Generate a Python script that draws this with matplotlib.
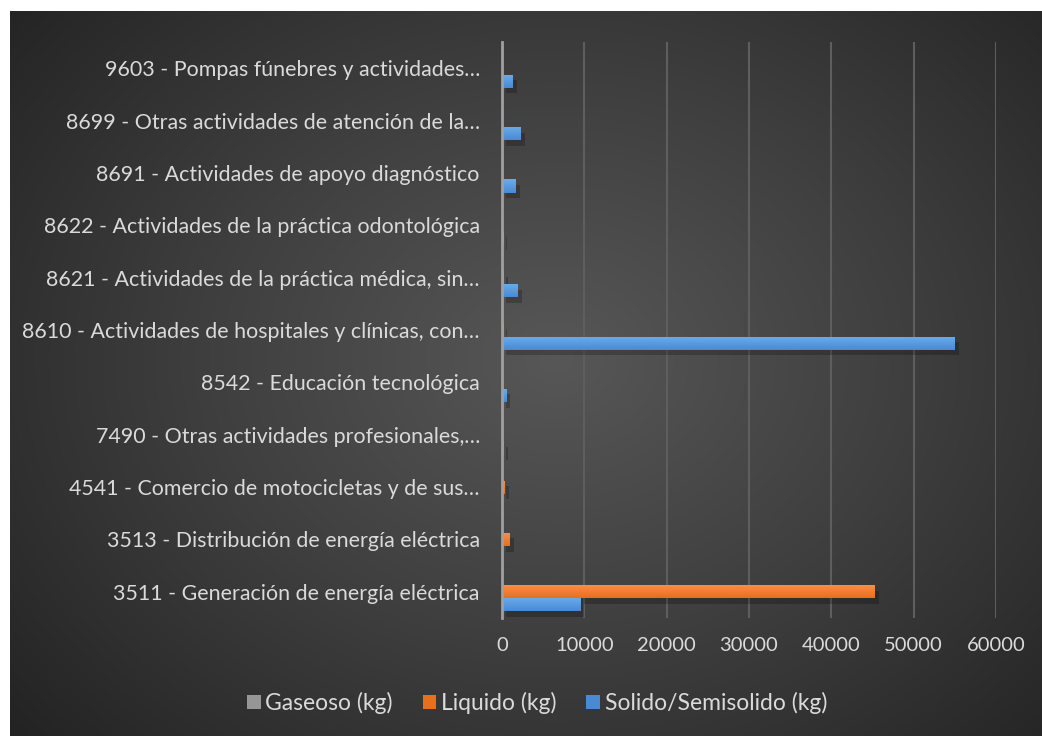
import numpy as np
import matplotlib
matplotlib.use("Agg")
import matplotlib.pyplot as plt
import matplotlib.patheffects as pe
from matplotlib.colors import LinearSegmentedColormap

# categories, bottom to top as drawn
categories = [
    "3511 - Generación de energía eléctrica",
    "3513 - Distribución de energía eléctrica",
    "4541 - Comercio de motocicletas y de sus…",
    "7490 - Otras actividades profesionales,…",
    "8542 - Educación tecnológica",
    "8610 - Actividades de hospitales y clínicas, con…",
    "8621 - Actividades de la práctica médica, sin…",
    "8622 - Actividades de la práctica odontológica",
    "8691 - Actividades de apoyo diagnóstico",
    "8699 - Otras actividades de atención de la…",
    "9603 - Pompas fúnebres y actividades…",
]
gaseoso = [0, 0, 0, 0, 0, 0, 0, 0, 0, 0, 0]
liquido = [45300, 900, 300, 0, 0, 150, 200, 0, 0, 0, 0]
solido = [9500, 0, 0, 200, 500, 55000, 1900, 150, 1700, 2300, 1300]
series_names = ["Gaseoso (kg)", "Liquido (kg)", "Solido/Semisolido (kg)"]
xticks = [0, 10000, 20000, 30000, 40000, 50000, 60000]

text_color = "#dadada"
plt.rcParams["font.family"] = ["Lato", "DejaVu Sans"]

fig = plt.figure(figsize=(10.42, 7.36), dpi=100)
fig.patch.set_facecolor("white")

# dark radial background panel
bg = fig.add_axes([10 / 1042, 0, 1 - 10 / 1042, 1 - 11 / 736])
bg.set_axis_off()
yy, xx = np.mgrid[0:1:400j, 0:1:600j]
r = np.sqrt(((xx - 0.53) / 0.75) ** 2 + ((yy - 0.52) / 0.85) ** 2)
bg_cmap = LinearSegmentedColormap.from_list("bg", ["#575757", "#3e3e3e", "#232323"])
bg.imshow(np.clip(r, 0, 1), cmap=bg_cmap, aspect="auto", extent=[0, 1, 0, 1], origin="lower")

ax = fig.add_axes([502 / 1042, 1 - 618 / 736, (996 - 502) / 1042, (618 - 42) / 736])
ax.patch.set_alpha(0)

y = np.arange(len(categories))
h = 0.25
grads = {
    "gray": ("#b8b8b8", "#969696"),
    "orange": ("#f79050", "#e8701c"),
    "blue": ("#6badea", "#4a89d4"),
}
shadow = [pe.SimplePatchShadow(offset=(3, -4), shadow_rgbFace="black", alpha=0.22), pe.Normal()]

def grad_bars(vals, offset, key, label):
    bars = ax.barh(y + offset, vals, height=h, color=grads[key][1], label=label,
                   zorder=3, path_effects=shadow)
    cm = LinearSegmentedColormap.from_list(key, [grads[key][1], grads[key][0]])
    for b in bars:
        if b.get_width() <= 0:
            continue
        x0, y0 = b.get_x(), b.get_y()
        im = ax.imshow(np.linspace(0, 1, 32).reshape(-1, 1), cmap=cm, aspect="auto",
                       extent=[x0, x0 + b.get_width(), y0, y0 + b.get_height()],
                       origin="lower", zorder=4)
        im.set_clip_path(b)
    return bars

grad_bars(gaseoso, h, "gray", series_names[0])
grad_bars(liquido, 0, "orange", series_names[1])
grad_bars(solido, -h, "blue", series_names[2])

ax.set_xlim(0, 60000)
ax.set_ylim(-0.5, len(categories) - 0.5)
ax.set_xticks(xticks)
ax.set_xticklabels([str(t) for t in xticks])
ax.set_yticks(y)
ax.set_yticklabels(categories)
ax.tick_params(axis="both", length=0, colors=text_color)
ax.tick_params(axis="x", pad=14, labelsize=14.5)
ax.tick_params(axis="y", pad=16, labelsize=15.4)
ax.grid(axis="x", color="#5e5e5e", linewidth=1.5, zorder=0)
for s in ["top", "right", "bottom"]:
    ax.spines[s].set_visible(False)
ax.spines["left"].set_color("#a0a0a0")
ax.spines["left"].set_linewidth(2)
ax.spines["left"].set_zorder(5)

leg = fig.legend(loc="center", bbox_to_anchor=(537 / 1042, 1 - 703 / 736), ncol=3,
                 frameon=False, fontsize=16.5, labelcolor=text_color, handlelength=0.6,
                 handleheight=0.6, handletextpad=0.2, columnspacing=1.3)
for hnd in leg.legend_handles:
    hnd.set_path_effects([])

fig.savefig("out.png", dpi=100, facecolor=fig.get_facecolor())
